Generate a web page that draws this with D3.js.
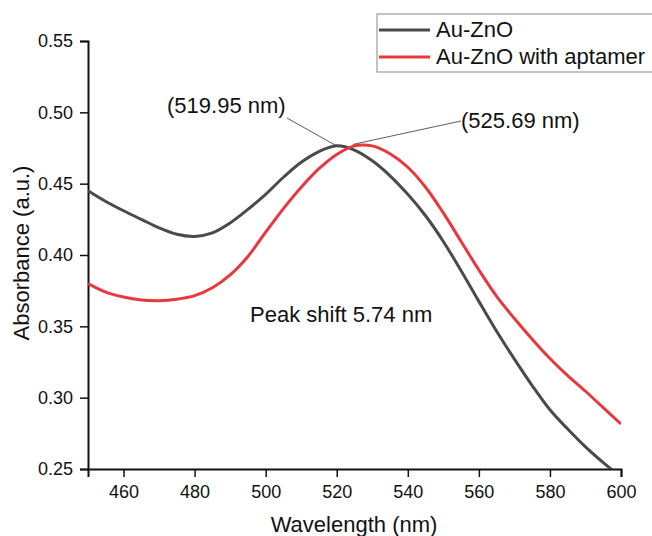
<!DOCTYPE html>
<html>
<head>
<meta charset="utf-8">
<script src="https://cdn.jsdelivr.net/npm/d3@7"></script>
<style>
  body { margin: 0; background: #fff; }
  svg { font-family: "Liberation Sans", Arial, sans-serif; }
</style>
</head>
<body>
<div id="chart"></div>
<script>
/*
UV-Vis absorbance, Au-ZnO vs Au-ZnO with aptamer
*/

var svgWidth = 652,
    svgHeight = 536;

var margin = {left: 88, right: 31, top: 41, bottom: 67};

var width = svgWidth - margin.left - margin.right,
    height = svgHeight - margin.top - margin.bottom;

// Data (5 nm steps)
var wavelength = [450, 455, 460, 465, 470, 475, 480, 485, 490, 495, 500, 505, 510, 515, 520,
                  525, 530, 535, 540, 545, 550, 555, 560, 565, 570, 575, 580, 585, 590, 595, 600];

var auZnO = [0.445, 0.4375, 0.431, 0.425, 0.419, 0.4145, 0.413, 0.4155, 0.4225, 0.432, 0.4425, 0.4545, 0.465, 0.4725, 0.4765,
             0.4735, 0.466, 0.4555, 0.4425, 0.4275, 0.4095, 0.389, 0.3675, 0.3465, 0.327, 0.3085, 0.2915, 0.278, 0.2655, 0.2545, 0.2445];

var auZnOApt = [0.380, 0.374, 0.3705, 0.3685, 0.368, 0.369, 0.3715, 0.377, 0.386, 0.399, 0.416, 0.4325, 0.4475, 0.4605, 0.4705,
                0.4765, 0.4765, 0.471, 0.4615, 0.4475, 0.4295, 0.4095, 0.3895, 0.371, 0.3555, 0.341, 0.3275, 0.3155, 0.3045, 0.293, 0.2816];

var seriesNames = ["Au-ZnO", "Au-ZnO with aptamer"];
var seriesColors = ["#4a4a4a", "#e8383d"];

var xTicks = [460, 480, 500, 520, 540, 560, 580, 600];
var yTicks = [0.25, 0.30, 0.35, 0.40, 0.45, 0.50, 0.55];

// peak annotations: [wavelength, absorbance, label]
var peaks = [
    [519.95, 0.4765, "(519.95 nm)"],
    [524.5, 0.4775, "(525.69 nm)"]
];

var svg = d3.select("#chart")
    .append("svg")
        .attr("width", svgWidth)
        .attr("height", svgHeight);

var g = svg.append("g")
    .attr("transform", `translate(${margin.left}, ${margin.top})`);

var x = d3.scaleLinear().domain([450, 600]).range([0, width]);
var y = d3.scaleLinear().domain([0.25, 0.55]).range([height, 0]);

// clip so the curves stop at the axes
svg.append("defs").append("clipPath").attr("id", "clip")
    .append("rect").attr("x", 0).attr("y", 0).attr("width", width).attr("height", height);

// Axes with minor ticks
var xMinor = d3.range(450, 601, 10);
var yMinor = d3.range(0, 7).map(i => 0.25 + i * 0.05 + 0.025).filter(v => v < 0.55);

var xAxisGroup = g.append("g").attr("transform", `translate(0, ${height})`);
xAxisGroup.call(d3.axisBottom(x).tickValues(xMinor).tickSize(4).tickFormat(""));
xAxisGroup.call(d3.axisBottom(x).tickValues(xTicks).tickSize(8).tickPadding(8).tickFormat(d3.format("d")));

var yAxisGroup = g.append("g");
yAxisGroup.call(d3.axisLeft(y).tickValues(yMinor).tickSize(4).tickFormat(""));
yAxisGroup.call(d3.axisLeft(y).tickValues(yTicks).tickSize(8).tickPadding(7).tickFormat(d3.format(".2f")));

g.selectAll(".domain").attr("stroke", "#111").attr("stroke-width", 2);
g.selectAll(".tick line").attr("stroke", "#111").attr("stroke-width", 1.5);
g.selectAll(".tick text").attr("font-size", "18px").attr("fill", "#111")
    .attr("font-family", "Liberation Sans, Arial, sans-serif");

// Lines
var line = d3.line()
    .x((d, i) => x(wavelength[i]))
    .y(d => y(d))
    .curve(d3.curveCatmullRom.alpha(0.5));

var curves = g.append("g").attr("clip-path", "url(#clip)");
[auZnO, auZnOApt].forEach((s, i) => {
    curves.append("path")
        .datum(s)
        .attr("d", line)
        .attr("fill", "none")
        .attr("stroke", seriesColors[i])
        .attr("stroke-width", 3);
});

// Peak annotations
var labelPos = [[167 - margin.left, 113 - margin.top, 287 - margin.left, 118 - margin.top],
                [461 - margin.left, 128 - margin.top, 461 - margin.left, 121 - margin.top]];
peaks.forEach((p, i) => {
    var lp = labelPos[i];
    g.append("line")
        .attr("x1", x(p[0])).attr("y1", y(p[1]))
        .attr("x2", lp[2]).attr("y2", lp[3])
        .attr("stroke", "#333").attr("stroke-width", 0.8);
    g.append("text")
        .attr("x", lp[0]).attr("y", lp[1])
        .attr("font-size", "22px")
        .attr("fill", "#111")
        .text(p[2]);
});

g.append("text")
    .attr("x", 250 - margin.left)
    .attr("y", 322 - margin.top)
    .attr("font-size", "22px")
    .attr("fill", "#111")
    .text("Peak shift 5.74 nm");

// Axis labels
svg.append("text")
    .attr("x", 354)
    .attr("y", 532)
    .attr("text-anchor", "middle")
    .attr("font-size", "22px")
    .attr("fill", "#111")
    .text("Wavelength (nm)");

svg.append("text")
    .attr("transform", "translate(29, 253) rotate(-90)")
    .attr("text-anchor", "middle")
    .attr("font-size", "22px")
    .attr("fill", "#111")
    .text("Absorbance (a.u.)");

// Legend
var legend = svg.append("g").attr("transform", "translate(377, 14)");
legend.append("rect")
    .attr("x", 0).attr("y", 0)
    .attr("width", 290).attr("height", 58)
    .attr("fill", "#fff")
    .attr("stroke", "#888")
    .attr("stroke-width", 1);

seriesNames.forEach((name, i) => {
    legend.append("line")
        .attr("x1", 2).attr("x2", 53)
        .attr("y1", 16 + i * 27).attr("y2", 16 + i * 27)
        .attr("stroke", seriesColors[i])
        .attr("stroke-width", 3);
    legend.append("text")
        .attr("x", 59)
        .attr("y", 23 + i * 27)
        .attr("font-size", "22px")
        .attr("fill", "#111")
        .text(name);
});
</script>
</body>
</html>
